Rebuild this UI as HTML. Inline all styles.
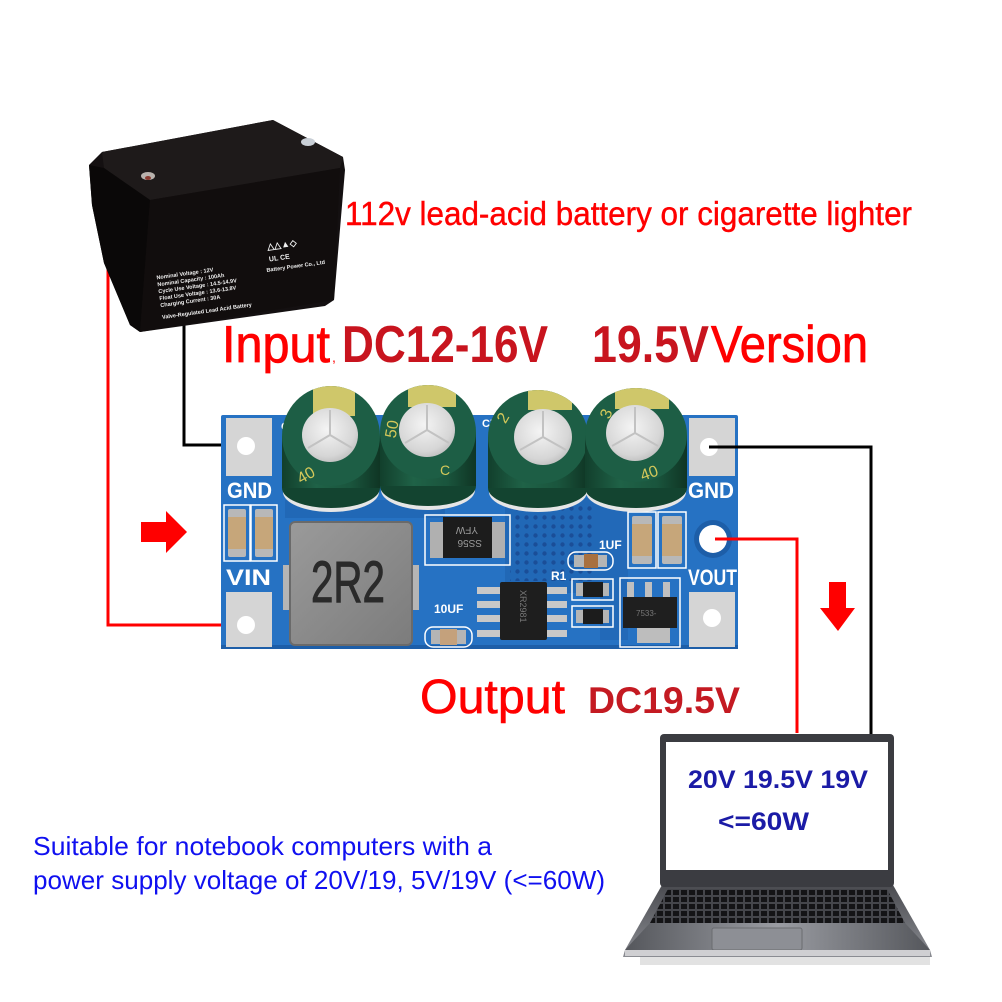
<!DOCTYPE html>
<html><head><meta charset="utf-8"><style>
html,body{margin:0;padding:0;background:#fff;}
svg{display:block;}
text{font-family:"Liberation Sans",sans-serif;}
</style></head><body>
<svg width="1002" height="1002" viewBox="0 0 1002 1002" xmlns="http://www.w3.org/2000/svg">
<defs>
  <linearGradient id="capBody" x1="0" x2="1" y1="0" y2="0">
    <stop offset="0" stop-color="#123f2c"/><stop offset="0.35" stop-color="#1f6247"/><stop offset="0.7" stop-color="#1a553d"/><stop offset="1" stop-color="#0f3524"/>
  </linearGradient>
  <radialGradient id="silver" cx="0.45" cy="0.4" r="0.7">
    <stop offset="0" stop-color="#f4f4f4"/><stop offset="0.7" stop-color="#d6d6d6"/><stop offset="1" stop-color="#b4b4b4"/>
  </radialGradient>
  <linearGradient id="ind" x1="0" x2="1" y1="0" y2="1">
    <stop offset="0" stop-color="#9a9a9a"/><stop offset="1" stop-color="#7c7c7c"/>
  </linearGradient>
  <linearGradient id="base" x1="0" x2="0" y1="0" y2="1">
    <stop offset="0" stop-color="#4a4b50"/><stop offset="1" stop-color="#8a8c92"/>
  </linearGradient>
  <linearGradient id="palm" x1="0" x2="1" y1="0" y2="0">
    <stop offset="0" stop-color="#55575c"/><stop offset="0.5" stop-color="#9a9ca2"/><stop offset="1" stop-color="#55575c"/>
  </linearGradient>
  <pattern id="dots" width="9" height="9" patternUnits="userSpaceOnUse">
    <circle cx="4.5" cy="4.5" r="2.2" fill="#1a4e98"/>
  </pattern>
  <pattern id="keys" width="8" height="7" patternUnits="userSpaceOnUse">
    <rect width="8" height="7" fill="#45464b"/><rect x="1" y="1" width="6" height="5" fill="#141416"/>
  </pattern>
  <clipPath id="t1"><ellipse cx="331" cy="436" rx="49" ry="50"/></clipPath>
  <clipPath id="t2"><ellipse cx="428" cy="432" rx="48" ry="47"/></clipPath>
  <clipPath id="t3"><ellipse cx="538" cy="437" rx="50" ry="47"/></clipPath>
  <clipPath id="t4"><ellipse cx="636" cy="435" rx="51" ry="47"/></clipPath>
</defs>

<rect width="1002" height="1002" fill="#fff"/>

<!-- red wire left (behind battery) -->
<path d="M108 250 V625 H246" fill="none" stroke="#ff0000" stroke-width="3"/>
<!-- black wire left -->
<path d="M184 320 V445 H246" fill="none" stroke="#000" stroke-width="3"/>

<!-- Battery -->
<polygon points="89,165 102,152 273,120 343,157 345,170 334,300 325,306 140,332 130,325 104,263 92,205" fill="#141011"/>
<polygon points="102,152 273,120 343,157 340,168 150,200 104,168" fill="#1e1a1a"/>
<polygon points="89,165 104,168 150,200 140,332 130,325 104,263 92,205" fill="#0a0808"/>
<polygon points="150,200 340,168 334,300 140,332" fill="#110d0d"/>
<ellipse cx="148" cy="176" rx="7" ry="4" fill="#b9b2ad"/>
<ellipse cx="148" cy="178" rx="3" ry="2" fill="#8a3a30"/>
<ellipse cx="308" cy="142" rx="7" ry="4" fill="#c9cfd6"/>
<g transform="rotate(-8 210 285)" fill="#f0f0f0" font-size="5.5" font-weight="bold">
  <text x="158" y="272">Nominal Voltage : 12V</text>
  <text x="158" y="279">Nominal Capacity : 100Ah</text>
  <text x="158" y="286">Cycle Use Voltage : 14.5-14.9V</text>
  <text x="158" y="293">Float Use Voltage : 13.6-13.8V</text>
  <text x="158" y="300">Charging Current : 30A</text>
  <text x="158" y="312">Valve-Regulated Lead Acid Battery</text>
  <text x="268" y="280">Battery Power Co., Ltd</text>
  <text x="272" y="258" font-size="9">△△▲◇</text>
  <text x="272" y="270" font-size="7">UL CE</text>
</g>

<!-- PCB board -->
<rect x="221" y="415" width="517" height="234" rx="2" fill="#2672c3"/>
<rect x="221" y="645" width="517" height="4" fill="#1d5ea8"/>
<rect x="285" y="500" width="160" height="18" fill="#2168b6"/>
<rect x="505" y="498" width="100" height="95" fill="#2168b6"/>
<rect x="510" y="503" width="84" height="78" fill="url(#dots)"/>
<rect x="600" y="500" width="28" height="140" fill="#2269b8"/>

<!-- pads -->
<rect x="226" y="418" width="46" height="58" fill="#d5d5d5"/>
<rect x="226" y="592" width="46" height="55" fill="#d5d5d5"/>
<rect x="689" y="418" width="46" height="58" fill="#d5d5d5"/>
<rect x="689" y="592" width="46" height="55" fill="#d5d5d5"/>
<circle cx="246" cy="446" r="9" fill="#fff"/>
<circle cx="246" cy="625" r="9" fill="#fff"/>
<circle cx="709" cy="447" r="9" fill="#fff"/>
<circle cx="712" cy="618" r="9" fill="#fff"/>
<circle cx="713" cy="539" r="19" fill="#1d5ea8"/>
<circle cx="713" cy="539" r="14" fill="#fff"/>

<!-- board labels -->
<g fill="#fff" font-weight="bold" font-size="22">
  <text x="227" y="498" textLength="45" lengthAdjust="spacingAndGlyphs">GND</text>
  <text x="226" y="585" textLength="45" lengthAdjust="spacingAndGlyphs">VIN</text>
  <text x="688" y="498" textLength="46" lengthAdjust="spacingAndGlyphs">GND</text>
  <text x="688" y="585" textLength="49" lengthAdjust="spacingAndGlyphs">VOUT</text>
</g>
<g fill="#fff" font-weight="bold" font-size="12">
  <text x="599" y="549">1UF</text>
  <text x="551" y="580">R1</text>
  <text x="434" y="613">10UF</text>
  <text x="482" y="427" font-size="11">C7</text>
  <text x="281" y="430" font-size="11">C</text>
</g>

<!-- left small caps -->
<rect x="224" y="505" width="26" height="56" fill="none" stroke="#fff" stroke-width="1.5"/>
<rect x="251" y="505" width="26" height="56" fill="none" stroke="#fff" stroke-width="1.5"/>
<rect x="228" y="509" width="18" height="48" rx="2" fill="#b8b8b8"/>
<rect x="228" y="517" width="18" height="32" fill="#c6a67a"/>
<rect x="255" y="509" width="18" height="48" rx="2" fill="#b8b8b8"/>
<rect x="255" y="517" width="18" height="32" fill="#c6a67a"/>
<!-- right small caps -->
<rect x="628" y="512" width="28" height="56" fill="none" stroke="#fff" stroke-width="1.5"/>
<rect x="658" y="512" width="28" height="56" fill="none" stroke="#fff" stroke-width="1.5"/>
<rect x="632" y="516" width="20" height="48" rx="2" fill="#b8b8b8"/>
<rect x="632" y="524" width="20" height="32" fill="#c6a67a"/>
<rect x="662" y="516" width="20" height="48" rx="2" fill="#b8b8b8"/>
<rect x="662" y="524" width="20" height="32" fill="#c6a67a"/>

<!-- Inductor -->
<rect x="283" y="565" width="9" height="45" fill="#b5b5b5"/>
<rect x="410" y="565" width="9" height="45" fill="#b5b5b5"/>
<rect x="290" y="522" width="122" height="123" rx="5" fill="url(#ind)" stroke="#6a6a6a" stroke-width="2"/>
<text x="311" y="602" font-size="58" fill="#2a2a2a" stroke="#2a2a2a" stroke-width="1" textLength="74" lengthAdjust="spacingAndGlyphs">2R2</text>

<!-- Diode SS56 -->
<rect x="425" y="515" width="85" height="50" fill="none" stroke="#fff" stroke-width="1.5"/>
<rect x="430" y="522" width="16" height="36" fill="#b0b0b0"/>
<rect x="489" y="522" width="16" height="36" fill="#b0b0b0"/>
<rect x="443" y="517" width="49" height="41" fill="#1c1c1c"/>
<g transform="rotate(180 467 537)" fill="#9a9a9a" font-size="10">
  <text x="452" y="534">SS56</text>
  <text x="456" y="547">YFW</text>
</g>

<!-- IC -->
<g fill="#c8c8c8">
  <rect x="477" y="587" width="23" height="7"/><rect x="477" y="601" width="23" height="7"/>
  <rect x="477" y="615" width="23" height="7"/><rect x="477" y="630" width="23" height="7"/>
  <rect x="547" y="587" width="20" height="7"/><rect x="547" y="601" width="20" height="7"/>
  <rect x="547" y="615" width="20" height="7"/><rect x="547" y="630" width="20" height="7"/>
</g>
<rect x="500" y="582" width="47" height="58" rx="2" fill="#1e1e1e"/>
<text transform="rotate(90 520 590)" x="520" y="590" font-size="9" fill="#777">XR2981</text>

<!-- 1UF cap -->
<rect x="568" y="552" width="45" height="18" rx="8" fill="none" stroke="#fff" stroke-width="1.5"/>
<rect x="574" y="555" width="33" height="12" fill="#b5b5b5"/>
<rect x="584" y="554" width="14" height="14" fill="#a8703f"/>
<!-- resistors -->
<rect x="572" y="579" width="41" height="21" fill="none" stroke="#fff" stroke-width="1.5"/>
<rect x="576" y="583" width="33" height="13" fill="#b5b5b5"/>
<rect x="583" y="582" width="20" height="15" fill="#1c1c1c"/>
<rect x="572" y="606" width="41" height="21" fill="none" stroke="#fff" stroke-width="1.5"/>
<rect x="576" y="610" width="33" height="13" fill="#b5b5b5"/>
<rect x="583" y="609" width="20" height="15" fill="#1c1c1c"/>
<!-- 10UF cap -->
<rect x="425" y="627" width="47" height="20" rx="8" fill="none" stroke="#fff" stroke-width="1.5"/>
<rect x="431" y="630" width="35" height="14" fill="#b5b5b5"/>
<rect x="440" y="629" width="17" height="16" fill="#c4a17c"/>
<!-- transistor -->
<rect x="620" y="578" width="60" height="69" fill="none" stroke="#fff" stroke-width="1.5"/>
<rect x="627" y="582" width="7" height="16" fill="#c0c0c0"/>
<rect x="645" y="582" width="7" height="16" fill="#c0c0c0"/>
<rect x="663" y="582" width="7" height="16" fill="#c0c0c0"/>
<rect x="623" y="597" width="54" height="31" fill="#1f1f1f"/>
<rect x="637" y="628" width="33" height="15" fill="#bdbdbd"/>
<text x="636" y="616" font-size="8" fill="#777">7533-</text>

<!-- Capacitors -->
<ellipse cx="331" cy="492" rx="48" ry="20" fill="#e6e6e6"/>
<ellipse cx="331" cy="488" rx="49" ry="20" fill="#134430"/>
<rect x="282" y="436" width="98" height="52" fill="url(#capBody)"/>
<ellipse cx="331" cy="436" rx="49" ry="50" fill="#1d5e45"/>
<g clip-path="url(#t1)"><rect x="313" y="384" width="42" height="32" fill="#cfc76a"/></g>
<ellipse cx="330" cy="435" rx="28" ry="27" fill="url(#silver)"/>
<path d="M330 435 L330 410 M330 435 L352 448 M330 435 L308 448" stroke="#c2c2c2" stroke-width="2"/>
<text x="296" y="478" font-size="16" fill="#d4c85a" transform="rotate(-30 310 472)">40</text>

<ellipse cx="428" cy="490" rx="47" ry="20" fill="#e6e6e6"/>
<ellipse cx="428" cy="486" rx="48" ry="20" fill="#134430"/>
<rect x="380" y="432" width="96" height="54" fill="url(#capBody)"/>
<ellipse cx="428" cy="432" rx="48" ry="47" fill="#1d5e45"/>
<g clip-path="url(#t2)"><rect x="408" y="383" width="48" height="24" fill="#cfc76a"/></g>
<ellipse cx="427" cy="430" rx="28" ry="27" fill="url(#silver)"/>
<path d="M427 430 L427 405 M427 430 L449 443 M427 430 L405 443" stroke="#c2c2c2" stroke-width="2"/>
<text x="384" y="435" font-size="16" fill="#d4c85a" transform="rotate(-80 392 430)">50</text>
<text x="440" y="475" font-size="14" fill="#d4c85a">C</text>

<ellipse cx="538" cy="492" rx="49" ry="20" fill="#e6e6e6"/>
<ellipse cx="538" cy="488" rx="50" ry="20" fill="#134430"/>
<rect x="488" y="437" width="100" height="51" fill="url(#capBody)"/>
<ellipse cx="538" cy="437" rx="50" ry="47" fill="#1d5e45"/>
<g clip-path="url(#t3)"><rect x="528" y="388" width="44" height="22" fill="#cfc76a"/></g>
<ellipse cx="543" cy="437" rx="29" ry="28" fill="url(#silver)"/>
<path d="M543 437 L543 411 M543 437 L566 450 M543 437 L520 450" stroke="#c2c2c2" stroke-width="2"/>
<text x="497" y="420" font-size="16" fill="#d4c85a" transform="rotate(-60 505 415)">2</text>

<ellipse cx="636" cy="492" rx="50" ry="20" fill="#e6e6e6"/>
<ellipse cx="636" cy="488" rx="51" ry="20" fill="#134430"/>
<rect x="585" y="435" width="102" height="53" fill="url(#capBody)"/>
<ellipse cx="636" cy="435" rx="51" ry="47" fill="#1d5e45"/>
<g clip-path="url(#t4)"><rect x="615" y="385" width="54" height="24" fill="#cfc76a"/></g>
<ellipse cx="635" cy="433" rx="29" ry="28" fill="url(#silver)"/>
<path d="M635 433 L635 407 M635 433 L658 446 M635 433 L612 446" stroke="#c2c2c2" stroke-width="2"/>
<text x="600" y="418" font-size="16" fill="#d4c85a" transform="rotate(-70 606 412)">3</text>
<text x="640" y="478" font-size="16" fill="#d4c85a" transform="rotate(-20 650 472)">40</text>

<!-- right wires -->
<path d="M709 447 H871 V736" fill="none" stroke="#000" stroke-width="3"/>
<path d="M715 539 H797 V733" fill="none" stroke="#ff0000" stroke-width="3"/>

<!-- arrows -->
<polygon points="141,522 166,522 166,511 187,532 166,553 166,542 141,542" fill="#ff0000"/>
<polygon points="829,582 846,582 846,608 855,608 838,631 820,608 829,608" fill="#ff0000"/>

<!-- headings -->
<text x="345" y="225" font-size="33" fill="#ff0000" stroke="#ff0000" stroke-width="0.4" textLength="567" lengthAdjust="spacingAndGlyphs">112v lead-acid battery or cigarette lighter</text>
<text x="222" y="362" font-size="52" fill="#ff0000" stroke="#ff0000" stroke-width="0.8" textLength="108" lengthAdjust="spacingAndGlyphs">Input</text>
<text x="332" y="362" font-size="14" fill="#ff0000">,</text>
<text x="342" y="362" font-size="52" font-weight="bold" fill="#c8141e" textLength="206" lengthAdjust="spacingAndGlyphs">DC12-16V</text>
<text x="592" y="362" font-size="52" font-weight="bold" fill="#c8141e" textLength="117" lengthAdjust="spacingAndGlyphs">19.5V</text>
<text x="711" y="362" font-size="52" fill="#ff0000" stroke="#ff0000" stroke-width="0.8" textLength="157" lengthAdjust="spacingAndGlyphs">Version</text>

<text x="420" y="713" font-size="48" fill="#ff0000" stroke="#ff0000" stroke-width="0.6" textLength="145" lengthAdjust="spacingAndGlyphs">Output</text>
<text x="588" y="713" font-size="37" font-weight="bold" fill="#c41a22" textLength="152" lengthAdjust="spacingAndGlyphs">DC19.5V</text>

<text x="33" y="855" font-size="26" fill="#1010f0" textLength="459" lengthAdjust="spacingAndGlyphs">Suitable for notebook computers with a</text>
<text x="33" y="889" font-size="26" fill="#1010f0" textLength="572" lengthAdjust="spacingAndGlyphs">power supply voltage of 20V/19, 5V/19V (&lt;=60W)</text>

<!-- Laptop -->
<rect x="640" y="957" width="290" height="8" fill="#e2e2e2"/>
<polygon points="662,885 893,885 930,950 932,957 623,957 625,950" fill="url(#base)"/>
<polygon points="668,889 887,889 905,923 650,923" fill="url(#keys)"/>
<polygon points="650,923 905,923 930,950 625,950" fill="url(#palm)"/>
<rect x="712" y="928" width="90" height="22" rx="2" fill="#8d8f95" stroke="#6a6c70"/>
<rect x="625" y="950" width="305" height="6" fill="#cfcfd2"/>
<rect x="660" y="734" width="234" height="153" rx="4" fill="#3b3c41"/>
<rect x="666" y="742" width="222" height="128" fill="#fff"/>
<text x="688" y="788" font-size="25" font-weight="bold" fill="#1b1ba6" textLength="180" lengthAdjust="spacingAndGlyphs">20V 19.5V 19V</text>
<text x="718" y="830" font-size="25" font-weight="bold" fill="#1b1ba6" textLength="91" lengthAdjust="spacingAndGlyphs">&lt;=60W</text>
</svg>
</body></html>
